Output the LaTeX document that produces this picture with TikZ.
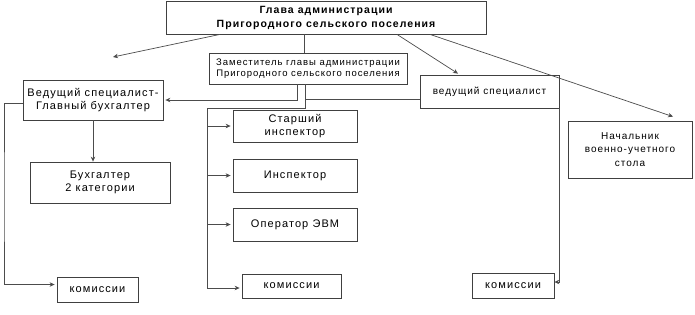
\documentclass[tikz,border=0pt]{standalone}
\usepackage{fontspec}
\usetikzlibrary{arrows.meta}
\newfontfamily\fa[LetterSpace=10]{Liberation Sans}
\begin{document}
\begin{tikzpicture}[x=1pt,y=-1pt,
  box/.style={draw=black!75, line width=0.8pt, align=center, inner sep=0pt, text=black,
              font=\fa\fontsize{11}{13.5}\selectfont},
  boxtop/.style={font=\fa\bfseries\fontsize{10.5}{14}\selectfont},
  boxzam/.style={font=\fa\fontsize{9.5}{11.5}\selectfont},
  boxsm/.style={font=\fa\fontsize{10}{13.5}\selectfont},
  conn/.style={draw=black!70, line width=0.7pt},
  arr/.style={conn, -{Stealth[length=5pt,width=4.5pt]}},
  arrb/.style={arr, shorten >=2pt}]
\useasboundingbox (0,0) rectangle (695,314);
\fill[white] (0,0) rectangle (695,314);

\node[box, boxtop, minimum width=320, minimum height=33] (top) at (326,17.5)
  {Глава администрации\\Пригородного сельского поселения};
\node[box, boxzam, minimum width=198, minimum height=31] (zam) at (308,68.5)
  {Заместитель главы администрации\\Пригородного сельского поселения};
\node[box, minimum width=140, minimum height=40] (vedg) at (93,100)
  {Ведущий специалист-\\Главный бухгалтер};
\node[box, minimum width=140, minimum height=41] (buh) at (100,182.5)
  {Бухгалтер\\2 категории};
\node[box, boxsm, minimum width=139, minimum height=33] (ved) at (489.5,91.5)
  {ведущий специалист};
\node[box, boxsm, minimum width=124, minimum height=57] (nach) at (630,149.5)
  {Начальник\\военно-учетного\\стола};
\node[box, minimum width=124, minimum height=32] (star) at (295,126)
  {Старший\\инспектор};
\node[box, minimum width=124, minimum height=33] (insp) at (295,175.5)
  {Инспектор};
\node[box, minimum width=124, minimum height=33] (oper) at (295,224.5)
  {Оператор ЭВМ};
\node[box, minimum width=81, minimum height=25] (kom1) at (97.5,289.5) {комиссии};
\node[box, minimum width=99, minimum height=24] (kom2) at (291.5,286) {комиссии};
\node[box, minimum width=82, minimum height=25] (kom3) at (513,285.5) {комиссии};

\coordinate (fl) at (113,57);
\coordinate (zj) at (305,108);
\coordinate (bus) at (207,108);
\coordinate (lb) at (4,200);

% from head
\draw[arr] ([xshift=-106]top.south) -- (fl);
\draw[conn] ([xshift=-22]top.south) -- ([xshift=-4]zam.north);
\draw[arr] ([xshift=71]top.south) -- ([xshift=-31.5,yshift=1]ved.north);
\draw[arr] ([xshift=104]top.south) -- ([xshift=43,yshift=4]nach.north);

% from deputy
\draw[arrb] ([xshift=-11]zam.south) |- (vedg.east);
\draw[conn] ([xshift=-3]zam.south) -- (zj) -- (bus);
\draw[conn] (zj |- ved.west) ++(0,7.5) -- ([yshift=-7.5]ved.west);
\draw[arrb] (bus) |- ([yshift=-2]kom2.west);
\draw[arrb] (bus |- star.west) -- (star.west);
\draw[arrb] (bus |- insp.west) -- (insp.west);
\draw[arrb] (bus |- oper.west) -- (oper.west);

% left branch
\draw[arr] (vedg.south) -- (vedg.south |- buh.north);
\draw[arrb] ([yshift=-3]vedg.west) -| (lb) |- ([yshift=5]kom1.west);

% right branch
\draw[arr] (ved.south east) |- ([yshift=3.5]kom3.east);
\end{tikzpicture}
\end{document}
